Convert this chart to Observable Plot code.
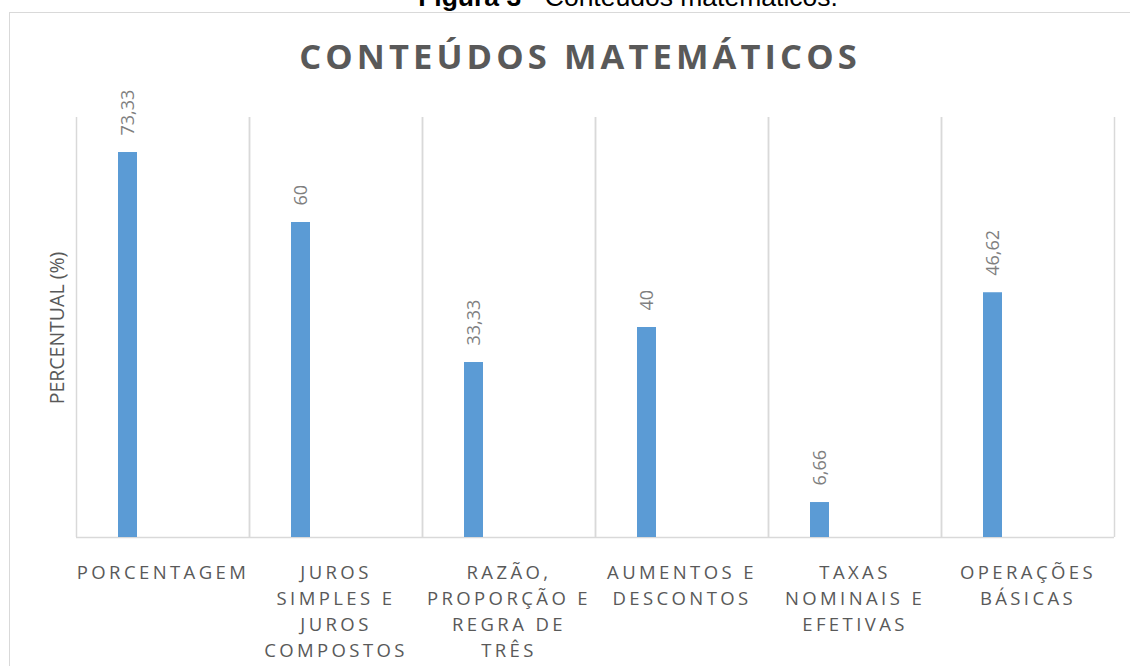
<!DOCTYPE html>
<html>
<head>
<meta charset="utf-8">
<script src="https://cdn.jsdelivr.net/npm/d3@7"></script>
<script src="https://cdn.jsdelivr.net/npm/@observablehq/plot@0.6"></script>
<style>
  body { margin: 0; background: #fff; }
  #wrap { position: relative; width: 1130px; height: 666px; overflow: hidden; background: #fff; }
  #caption { position: absolute; left: 0; width: 1256px; top: -16px; text-align: center; font-family: "Liberation Sans", Arial, sans-serif; font-size: 26.5px; line-height: 26px; color: #000; white-space: nowrap; }
  #frame { position: absolute; left: 9px; top: 12px; width: 1200px; height: 700px; border: 1px solid #d9d9d9; box-sizing: border-box; }
  #title { position: absolute; left: 0; width: 1160px; top: 39px; text-align: center; font-family: "Open Sans", sans-serif; font-weight: bold; font-size: 34.5px; line-height: 34.5px; letter-spacing: 4.1px; color: #595959; white-space: nowrap; }
  #ylabel { position: absolute; left: 56px; top: 328px; transform: translate(-50%, -50%) rotate(-90deg); font-family: "Open Sans", sans-serif; font-size: 19.5px; color: #595959; white-space: nowrap; }
  #chart { position: absolute; left: 0; top: 0; }
</style>
</head>
<body>
<div id="wrap">
  <div id="frame"></div>
  <div id="caption"><b>Figura 3</b> - Conteúdos matemáticos.</div>
  <div id="title">CONTEÚDOS MATEMÁTICOS</div>
  <div id="ylabel">PERCENTUAL (%)</div>
  <div id="chart"></div>
</div>
<script>
const categories = ["PORCENTAGEM", "JUROS SIMPLES E JUROS COMPOSTOS", "RAZÃO, PROPORÇÃO E REGRA DE TRÊS", "AUMENTOS E DESCONTOS", "TAXAS NOMINAIS E EFETIVAS", "OPERAÇÕES BÁSICAS"];
const tickLabels = ["PORCENTAGEM", "JUROS\nSIMPLES E\nJUROS\nCOMPOSTOS", "RAZÃO,\nPROPORÇÃO E\nREGRA DE\nTRÊS", "AUMENTOS E\nDESCONTOS", "TAXAS\nNOMINAIS E\nEFETIVAS", "OPERAÇÕES\nBÁSICAS"];
const values = [73.33, 60, 33.33, 40, 6.66, 46.62];
const valueLabels = ["73,33", "60", "33,33", "40", "6,66", "46,62"];

const data = categories.map((c, i) => ({cat: c, value: values[i], label: valueLabels[i], tick: tickLabels[i]}));

const grid = "#d9d9d9";
const chart = Plot.plot({
  width: 1130,
  height: 666,
  marginLeft: 76,
  marginRight: 16,
  marginTop: 117,
  marginBottom: 129,
  fx: {domain: categories, padding: 0, axis: null},
  x: {domain: [0, 1], axis: null},
  y: {domain: [0, 80], axis: null},
  marks: [
    Plot.ruleX([0, 1], {stroke: grid, strokeWidth: 1.5}),
    Plot.ruleY([0], {stroke: grid, strokeWidth: 1.5}),
    Plot.barY(data, {fx: "cat", y: "value", fill: "#5b9bd5", insetLeft: 42, insetRight: 112}),
    Plot.text(data, {fx: "cat", y: "value", text: "label", rotate: -90, textAnchor: "start", dx: -35, dy: -17,
      fill: "#7f7f7f", fontSize: 18, fontFamily: "Open Sans, sans-serif", ariaDescription: "values"}),
    Plot.text(data, {fx: "cat", text: "tick", frameAnchor: "bottom", lineAnchor: "top", dy: 23, lineHeight: 1.4,
      fill: "#595959", fontSize: 18.5, fontFamily: "Open Sans, sans-serif", ariaDescription: "xlabels"})
  ]
});
const textGroups = chart.querySelectorAll('g[aria-label="text"]');
const xg = chart.querySelector('g[aria-description="xlabels"]') || textGroups[textGroups.length - 1];
if (xg) xg.querySelectorAll('text, tspan').forEach(t => { t.style.letterSpacing = "3.4px"; });
document.getElementById("chart").appendChild(chart);
</script>
</body>
</html>
